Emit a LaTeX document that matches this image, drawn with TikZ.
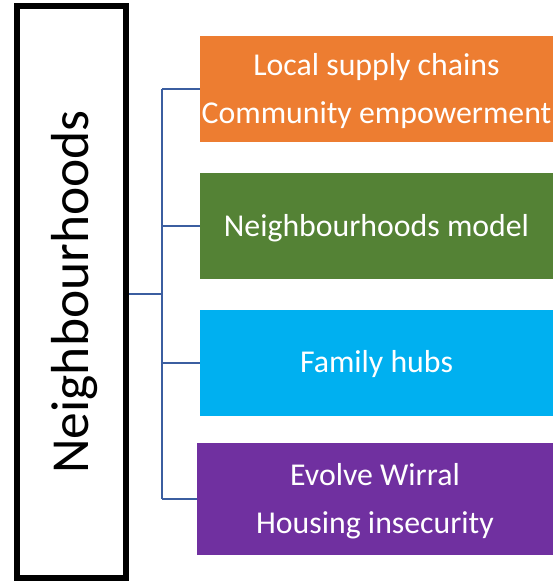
\documentclass[tikz,border=0pt]{standalone}
\usepackage{fontspec}
\setmainfont{Carlito}
\definecolor{boxorange}{RGB}{237,125,49}
\definecolor{boxgreen}{RGB}{84,130,53}
\definecolor{boxblue}{RGB}{0,176,240}
\definecolor{boxpurple}{RGB}{112,48,160}
\definecolor{linkblue}{RGB}{59,94,160}
\tikzset{
  theme/.style={draw=black,line width=6pt,minimum width=572pt,minimum height=109pt,inner sep=0pt,rotate=90,text depth=4pt,font=\fontsize{53.5}{60}\selectfont},
  item/.style={fill=#1,text=white,minimum width=353pt,minimum height=106pt,inner sep=0pt,align=center,text depth=2pt,font=\fontsize{31.8}{48}\selectfont},
  link/.style={draw=linkblue,line width=2pt}
}
\begin{document}
\begin{tikzpicture}[x=1pt,y=-1pt]
            \useasboundingbox (0,0) rectangle (553,582);
            \node[theme] (H) at (71.5,292) {Neighbourhoods};

            \node[item=boxorange] (A) at (376.5,89) {Local supply chains\\Community empowerment};
            \node[item=boxgreen] (B) at (376.5,226) {Neighbourhoods model};
            \node[item=boxblue] (C) at (376.5,362.5) {Family hubs};
            \node[item=boxpurple,minimum width=356pt,minimum height=112pt] (D) at (375,499) {Evolve Wirral\\Housing insecurity};

            \coordinate (J) at (162,294);
            \coordinate (T) at (162,89);
            \coordinate (U) at (162,499);

            \draw[link] (H.south |- J) -- (J);
            \draw[link] (T) -- (U);
            \draw[link] (T) -- (A.west);
            \draw[link] (T |- B) -- (B.west);
            \draw[link] (T |- C) -- (C.west);
            \draw[link] (U) -- (D.west);
        \end{tikzpicture}
\end{document}
